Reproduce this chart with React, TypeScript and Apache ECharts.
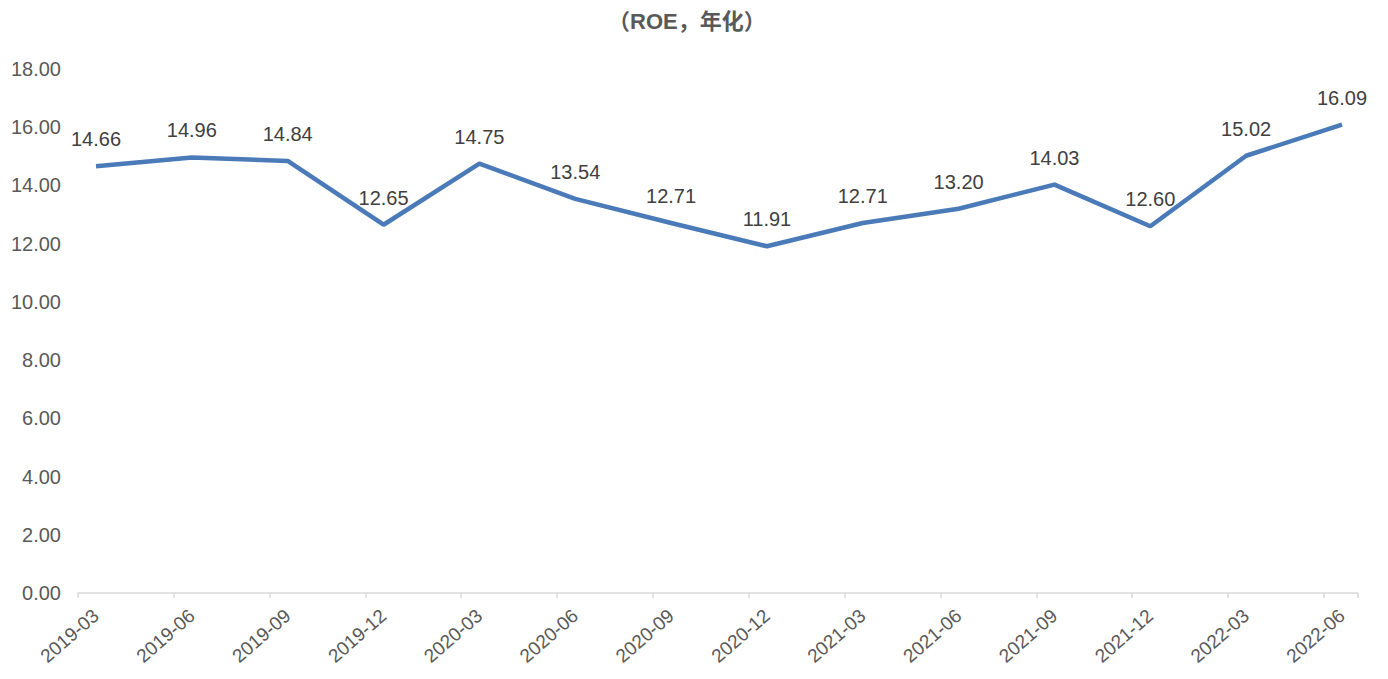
import React, { useEffect, useRef } from "react";
import * as echarts from "echarts";

const categories = [
  "2019-03", "2019-06", "2019-09", "2019-12",
  "2020-03", "2020-06", "2020-09", "2020-12",
  "2021-03", "2021-06", "2021-09", "2021-12",
  "2022-03", "2022-06",
];
const roeValues = [14.66, 14.96, 14.84, 12.65, 14.75, 13.54, 12.71, 11.91, 12.71, 13.2, 14.03, 12.6, 15.02, 16.09];
const titleText = "（ROE，年化）";

const FONT = "'Liberation Sans', Arial, 'Noto Sans CJK SC', sans-serif";

export default function App() {
  const ref = useRef<HTMLDivElement>(null);
  useEffect(() => {
    if (!ref.current) return;
    const chart = echarts.init(ref.current, undefined, { renderer: "svg" });
    chart.setOption({
      animation: false,
      backgroundColor: "#ffffff",
      textStyle: { fontFamily: FONT },
      title: {
        text: titleText,
        left: 603,
        top: 5,
        textStyle: { fontFamily: FONT, fontSize: 22, fontWeight: "bold", color: "#595959" },
      },
      grid: [
        { left: 78, right: 30, top: 69, bottom: 86 },
        { left: 96, right: 46, top: 69, bottom: 86 },
      ],
      xAxis: [
        {
          type: "value",
          gridIndex: 0,
          min: -0.188,
          max: 13.167,
          interval: 1,
          axisLine: { show: true, lineStyle: { color: "#d9d9d9", width: 1.5 } },
          axisTick: { show: true, length: 5, lineStyle: { color: "#d9d9d9", width: 1.5 } },
          axisLabel: { show: false },
          splitLine: { show: false },
        },
        {
          type: "category",
          gridIndex: 1,
          data: categories,
          boundaryGap: false,
          axisLine: { show: false },
          axisTick: { show: false },
          axisLabel: {
            rotate: 41,
            margin: 20,
            fontSize: 19,
            color: "#595959",
            fontFamily: FONT,
            interval: 0,
          },
        },
      ],
      yAxis: [
        {
          type: "value",
          gridIndex: 0,
          min: 0,
          max: 18,
          interval: 2,
          axisLine: { show: false },
          axisTick: { show: false },
          splitLine: { show: false },
          axisLabel: {
            formatter: (v: number) => v.toFixed(2),
            fontSize: 20,
            color: "#595959",
            margin: 17,
            fontFamily: FONT,
          },
        },
        {
          type: "value",
          gridIndex: 1,
          min: 0,
          max: 18,
          interval: 2,
          show: false,
        },
      ],
      series: [
        {
          type: "line",
          xAxisIndex: 1,
          yAxisIndex: 1,
          data: roeValues,
          showSymbol: true,
          symbol: "circle",
          symbolSize: 0.1,
          lineStyle: { color: "#4a7ab8", width: 4.5 },
          itemStyle: { color: "#4a7ab8" },
          label: {
            show: true,
            position: "top",
            distance: 17,
            fontSize: 20,
            color: "#404040",
            fontFamily: FONT,
            formatter: (p: any) => Number(p.value).toFixed(2),
          },
        },
      ],
    });
    return () => chart.dispose();
  }, []);
  return (
    <div
      ref={ref}
      style={{ position: "fixed", left: 0, top: 0, width: 1388, height: 679, background: "#fff" }}
    />
  );
}
